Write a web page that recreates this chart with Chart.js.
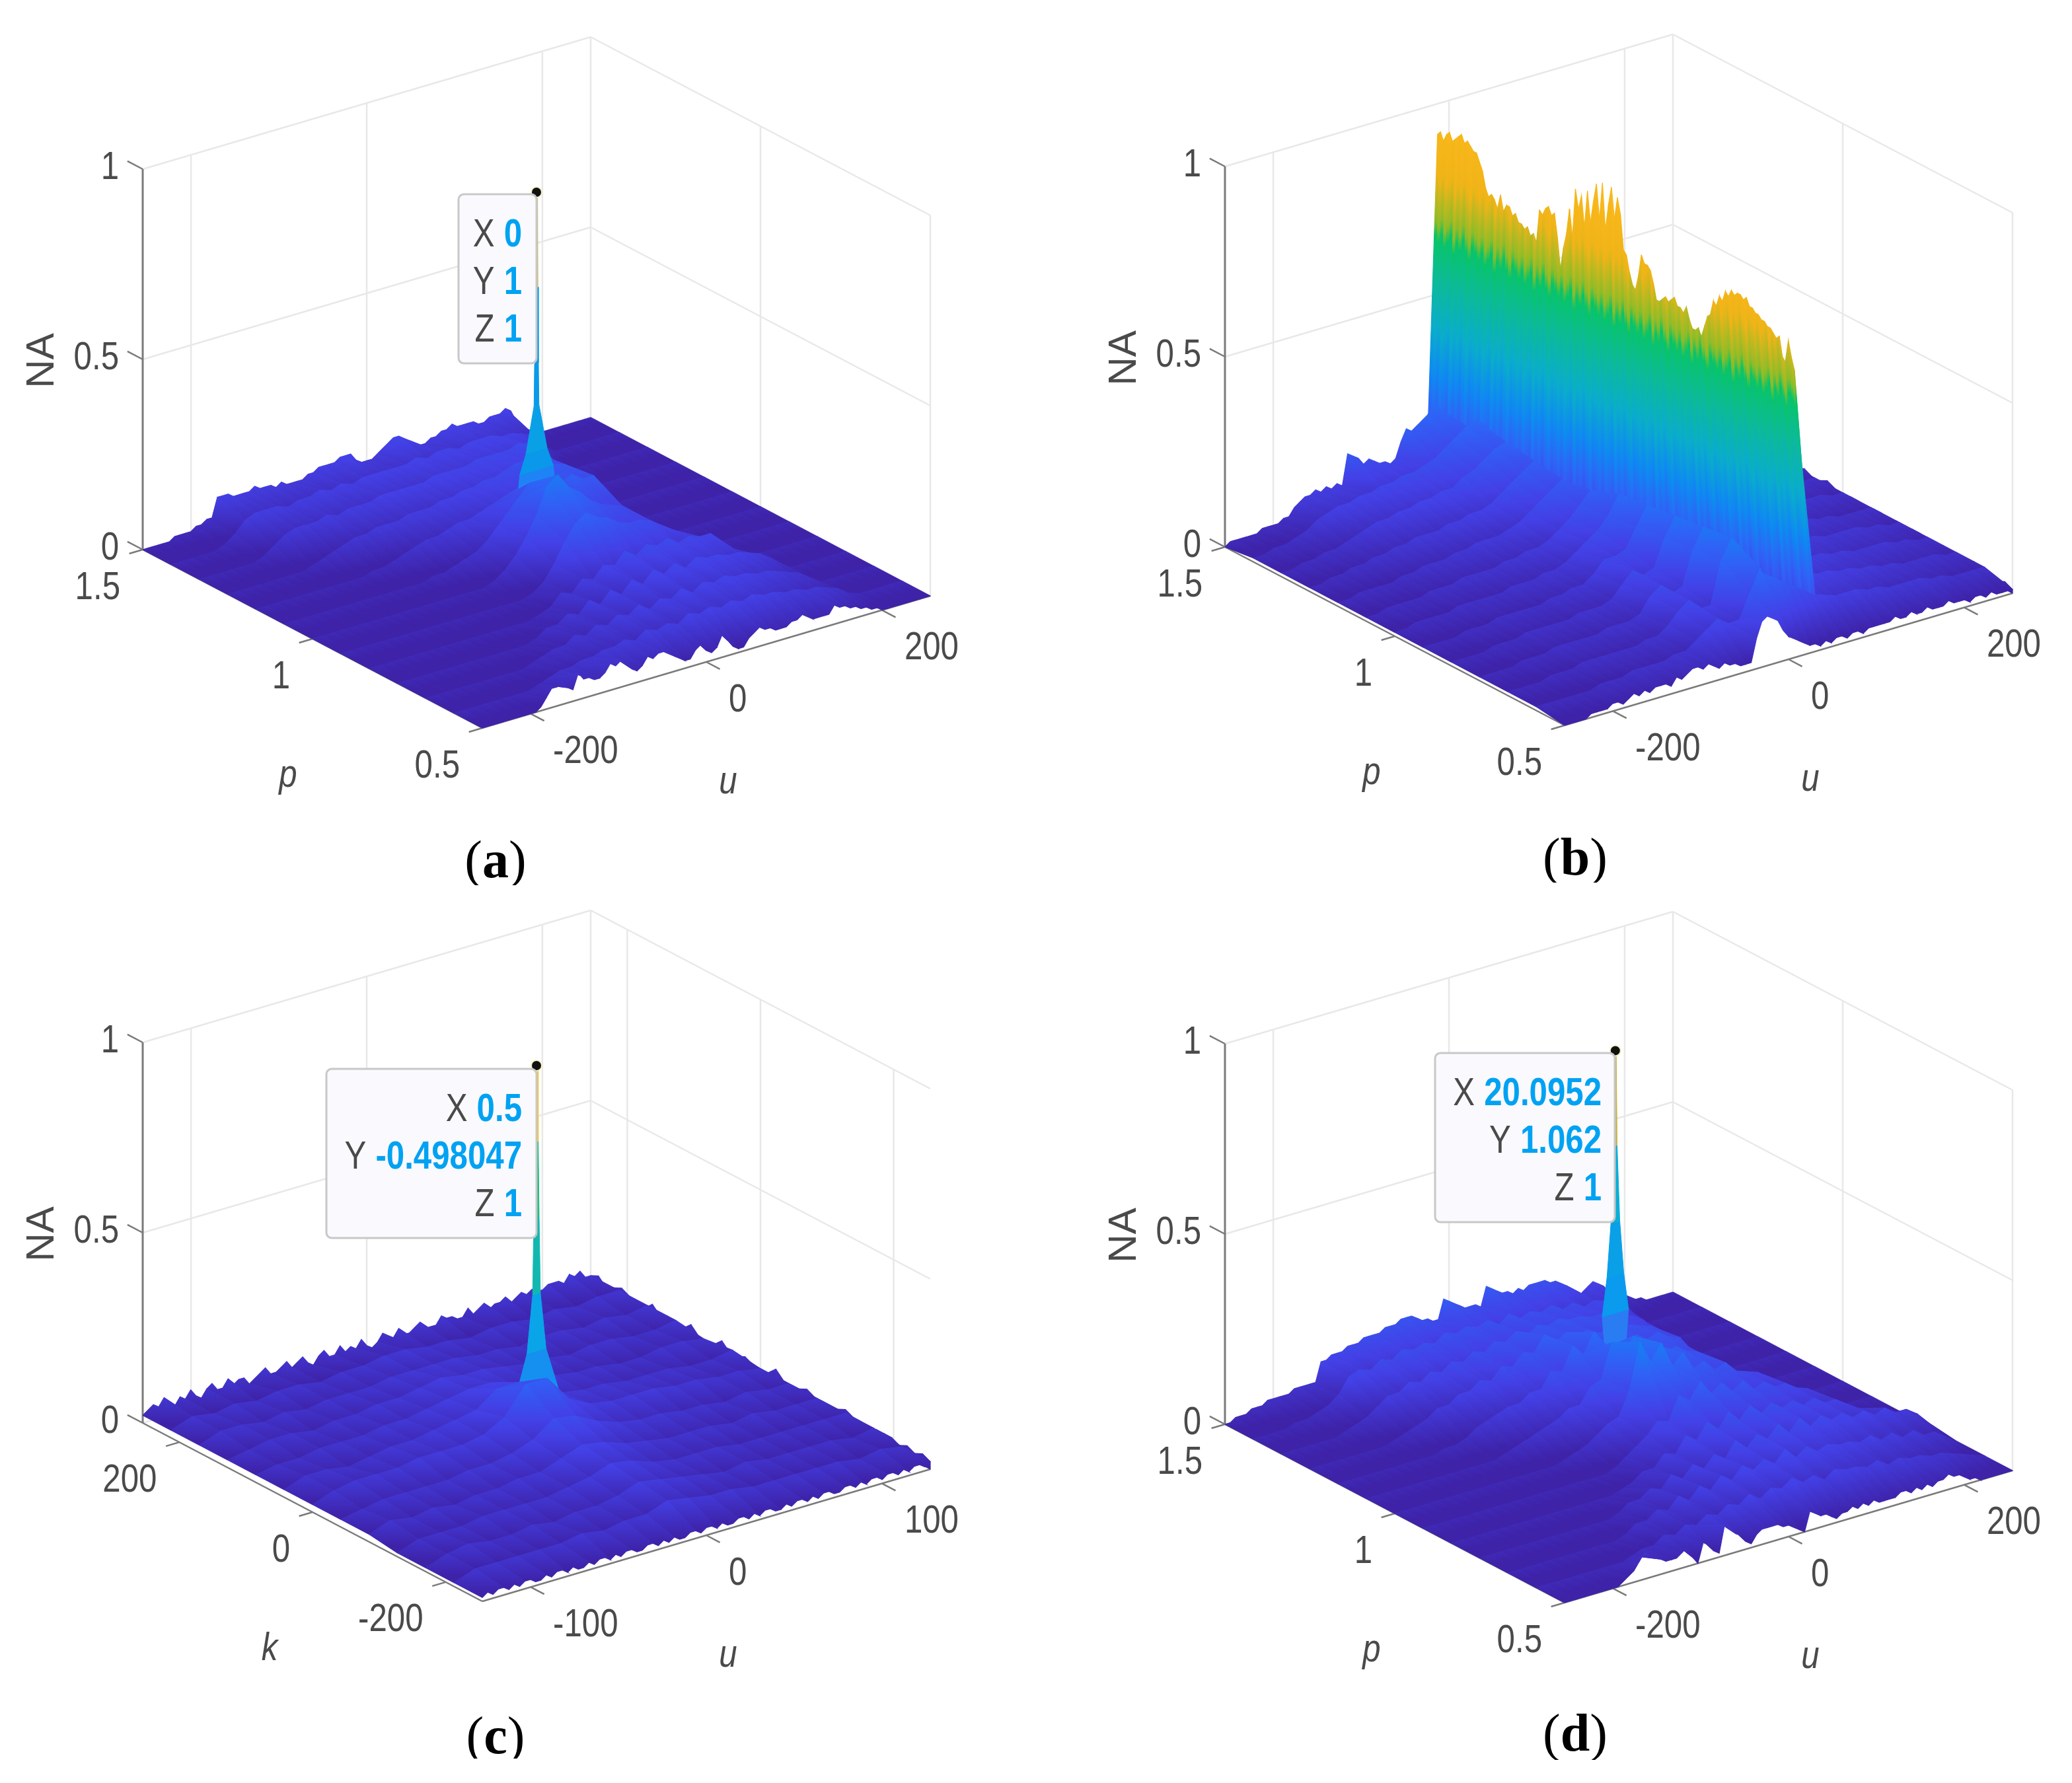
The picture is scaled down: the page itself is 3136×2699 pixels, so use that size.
<!DOCTYPE html>
<html>
<head>
<meta charset="utf-8">
<title>NA surfaces</title>
<script src="https://cdn.jsdelivr.net/npm/chart.js@4/dist/chart.umd.js"></script>
<style>
html,body{margin:0;background:#fff;width:3136px;height:2699px;overflow:hidden}
canvas{position:absolute}
</style>
</head>
<body>
<canvas id="chartA" width="1500" height="1340" style="left:0;top:0"></canvas>
<canvas id="chartB" width="1498" height="1340" style="left:1638px;top:-4px"></canvas>
<canvas id="chartC" width="1500" height="1340" style="left:0;top:1322px"></canvas>
<canvas id="chartD" width="1498" height="1340" style="left:1638px;top:1324px"></canvas>
<script>
// tick labels
const naTicks = [0, 0.5, 1];
const uTicksWide = [-200, 0, 200];
const uTicksNarrow = [-100, 0, 100];
const pTicks = [1.5, 1, 0.5];
const kTicks = [200, 0, -200];

// heights are in percent of NA. back row = p 1.5 (k 255), front row = p 0.5 (k -255), read left to right along u
// inner rows stop early where the rest of the row is flat at 0
const backA = [0,0,0,0,0,0,1,1,1,1,2,2,3,3,8,8,8,7,7,7,7,8,7,7,7,6,7,6,6,6,6,7,7,8,8,8,8,9,9,9,7,6,6,6,7,8,9,10,10,9,8,7,6,6,7,7,8,8,9,8,8,8,8,7,7,8,8,8,9,8,5,3,2,1,0,0,0,0,0,0,0,0,0,0,0];
const innerA = [
  [0,0,0,0,0,1,3,6,7,7,7,6,7,7,8,7,8,7,8,8,8,8,8,9,8,9,9,8,9,9,9,8,8,7,6,2],
  [0,0,0,0,0,0,1,3,5,6,6,6,7,6,7,7,7,8,8,8,8,8,9,9,9,9,10,10,10,10,11,10,9,4,1],
  [0,0,0,0,0,0,0,0,1,2,3,4,5,5,6,6,6,7,7,7,8,8,9,9,10,10,11,12,12,13,12,6,1],
  [0,0,0,0,0,0,0,0,0,0,0,1,1,2,3,4,5,5,6,7,7,8,9,10,11,12,13,14,15,14,8,1],
  [0,0,0,0,0,0,0,0,0,0,0,0,0,0,1,1,2,3,4,6,9,12,15,18,18,17,16,17,15,15,9,2],
  [0,0,0,0,0,0,0,0,0,0,0,0,0,0,0,0,0,1,3,6,10,15,22,24,20,18,15,13,12,11,7,3,1],
  [0,0,0,0,0,0,0,0,0,0,0,0,0,0,0,0,0,0,1,3,7,12,16,18,16,15,13,12,12,11,9,7,3,1],
  [0,0,0,0,0,0,0,0,0,0,0,0,0,0,0,0,1,2,5,4,7,6,9,8,11,9,11,10,11,9,10,9,9,5,2],
  [0,0,0,0,0,0,0,0,0,0,0,0,0,1,3,3,5,4,7,5,8,6,9,7,10,8,10,8,10,9,9,8,8,7,6,4,1],
  [0,0,0,0,0,0,0,0,0,0,1,2,3,3,5,4,6,5,7,6,8,6,8,7,9,7,9,8,9,8,8,7,7,6,5,4,2],
  [0,0,0,0,0,0,0,0,1,2,3,3,4,4,5,5,6,5,7,6,7,6,8,7,8,7,8,7,8,7,7,6,6,5,5,4,3,1]
];
const frontA = [0,0,0,0,0,0,0,0,0,0,0,1,3,5,5,6,4,3,7,5,5,4,4,5,7,6,7,6,4,3,4,6,5,6,6,5,4,3,2,2,4,5,3,2,3,6,4,2,1,1,3,4,5,4,4,3,3,3,4,4,5,4,3,3,3,3,5,4,4,3,3,2,2,1,1,0,0,0,0,0,0,0,0,0,0];

const backB = [0,1,1,1,1,1,1,2,2,2,2,3,3,5,6,7,7,8,7,8,7,8,7,15,14,13,11,12,11,10,10,9,10,14,17,16,17,18,19,21,20,10,8,7,6,6,6,5,6,5,6,5,5,6,5,5,6,5,5,5,6,5,5,5,6,5,5,5,5,6,5,5,5,5,5,5,5,5,5,5,5,5,5,5,5];
const innerB = [
  [1,1,2,2,3,4,6,7,8,8,9,9,10,10,11,11,12,13,15,17,19,20,14,10,9,8,8,7,7,6,6,6,6,5,5,5,5,4,4,4,4,4,4],
  [1,1,2,2,3,3,4,5,6,7,7,8,8,9,9,10,10,12,13,15,17,18,13,10,9,8,8,7,7,6,6,6,6,5,5,5,5,5,4,4,4,4,4],
  [1,1,2,2,3,3,4,4,5,5,6,6,6,7,7,8,8,9,11,13,15,17,13,10,9,8,8,7,7,6,6,5,5,5,5,5,4,4,4,4,4,4,4],
  [1,1,2,2,2,2,3,3,4,4,4,5,5,6,6,6,7,8,10,12,14,16,12,10,9,8,8,7,7,6,6,5,5,5,5,4,4,4,4,4,4,3,3],
  [1,1,2,2,2,2,3,3,3,4,4,4,4,5,5,6,6,7,9,11,14,17,12,10,9,8,8,7,7,6,6,6,6,5,5,4,4,4,4,4,4,3,3],
  [1,1,2,2,2,2,3,3,3,3,3,4,4,4,5,5,6,8,10,12,15,20,15,12,10,9,9,8,8,7,7,6,6,5,5,5,5,4,4,4,4,3,3],
  [1,1,1,1,2,2,2,3,3,3,3,3,4,4,5,5,7,10,10,11,16,21,16,13,11,10,10,9,9,8,8,7,7,6,6,5,5,4,4,3,3,3,3],
  [1,1,1,1,2,2,2,3,3,3,3,3,4,4,4,5,8,11,9,10,17,22,17,14,12,10,10,9,9,8,8,7,7,6,6,5,5,5,5,4,4,3,3],
  [1,1,1,1,2,2,2,3,3,3,3,3,4,4,4,5,9,11,8,9,18,23,18,15,13,11,10,9,9,8,8,7,7,6,6,5,5,5,5,4,4,3,3],
  [1,1,1,1,2,2,2,3,3,3,3,3,3,4,4,6,9,11,8,8,19,24,20,16,14,11,10,9,9,8,8,7,7,6,6,5,5,4,4,4,4,3,3],
  [1,1,1,1,1,1,2,2,2,3,3,3,3,4,4,6,8,10,8,8,14,20,22,18,15,12,9,8,7,7,7,6,6,5,5,5,5,4,4,3,3,3,3]
];
const frontB = [0,0,0,0,0,1,1,1,1,2,2,1,2,3,2,3,2,3,3,3,2,4,3,4,5,5,4,5,4,3,4,3,3,2,2,2,8,12,13,12,11,8,6,5,4,3,2,2,1,2,1,2,2,1,2,2,1,2,2,2,2,2,3,2,2,3,2,2,3,2,2,2,3,2,2,2,1,2,2,1,2,1,1,1,1];
const edgeRightB = [5,5,4,5,4,4,5,4,3,4,4,3,4,3,4,3,3,4,3,3,4,3,2,3,3,2,3,3,2,3,2,3,3,2,2,3,2,2,2,3,2,2,1,2,1];
// wall of panel b, one value per step along p from 1.5 to 0.5
const ridgeB = [92,93,91,93,94,92,93,94,95,93,94,93,92,92,90,88,84,82,83,82,80,84,80,82,82,80,81,79,79,78,79,77,78,76,85,84,86,87,85,86,80,72,78,82,89,82,95,90,94,86,96,88,94,99,90,100,88,95,100,92,98,94,85,84,80,77,76,80,86,84,84,83,80,76,76,77,78,77,78,79,77,77,76,78,75,73,73,74,72,75,78,79,83,82,85,84,87,86,88,87,88,88,87,88,86,86,85,85,84,84,83,83,82,81,82,77,76,82,78,75,62];
const ridgeTopU = [-13, 10];
const ridgeBaseU = [-24, 30];
const ridgeBaseZ = 0.15;
const wallStreak = [0,8,-5,12,2,-9,16,-3,6,-11,4,14,-7];

const backC = [2,3,4,3,5,3,2,4,3,5,3,2,4,5,3,3,5,3,4,4,2,3,4,5,3,3,4,5,3,4,5,3,2,4,5,3,3,5,3,4,3,5,3,2,3,5,4,3,5,3,3,4,5,3,3,3,5,4,4,3,3,5,3,4,5,3,4,4,5,3,4,5,4,5,4,4,5,5,5,4,6,5,6,4,4];
const innerC = [
  [2,4,3,4,3,4,4,3,4,4,5,5,4,4,3,4,4,3,4,3,4,4],
  [2,4,4,3,4,3,4,4,4,5,5,5,5,4,4,3,4,4,3,4,3,4],
  [2,3,4,4,3,4,4,5,5,6,7,6,6,5,4,4,3,4,4,3,3,4],
  [2,3,3,4,4,4,5,5,6,7,8,8,6,5,5,4,4,3,3,4,4,3],
  [2,4,4,3,4,5,5,6,7,8,12,12,8,6,5,5,4,4,4,3,3,4],
  [2,4,5,5,5,6,6,6,7,10,17,17,10,7,6,6,6,5,5,4,4,3],
  [2,3,4,4,4,4,5,5,6,8,12,11,8,6,5,5,4,4,3,4,3,3],
  [2,4,3,4,3,4,4,5,5,7,9,8,6,5,4,4,4,3,4,3,3,3],
  [1,3,3,3,4,4,4,4,5,6,8,7,5,4,4,4,3,3,3,3,3,3],
  [1,3,4,3,3,4,3,4,4,5,7,6,5,4,3,4,3,3,3,3,2,3],
  [1,3,3,3,3,3,4,3,4,4,6,5,4,4,3,3,3,3,3,2,3,2]
];
const frontC = [1,2,1,2,2,1,2,1,2,2,1,1,2,1,2,2,1,2,1,1,2,1,2,2,1,2,1,2,2,1,1,2,2,1,2,1,2,1,1,2,2,1,2,2,1,2,1,1,2,2,1,2,1,2,2,1,1,2,1,2,2,1,2,1,2,2,1,1,2,2,1,2,1,2,2,1,2,2,1,2,1,2,2,1,2];
const edgeRightC = [4,5,3,4,5,4,3,3,5,3,4,3,3,5,3,3,3,5,3,3,4,3,3,3,5,3,3,3,4,3,3,3,3,4,3,3,2,3,3,3,2,3,2,3,2];

const backD = [0,0,1,1,1,2,2,2,3,3,3,3,3,4,4,4,4,4,9,9,10,10,10,11,11,11,12,12,12,12,13,13,13,14,14,14,13,12,12,11,11,16,15,14,13,12,12,12,11,16,15,14,13,13,12,13,12,13,13,13,13,12,12,11,10,8,5,7,8,9,8,7,5,4,3,3,2,1,1,0,0,0,0,0,0];
const innerD = [
  [0,0,0,0,1,1,2,3,5,9,10,9,11,10,12,11,12,11,13,12,13,12,13,11,13,11,12,11,12,10,11,9,10,9,8,6,2],
  [0,0,0,0,0,0,1,2,3,5,7,7,9,8,10,9,11,10,12,11,13,12,14,12,14,13,14,13,13,12,12,11,10,9,7,2],
  [0,0,0,0,0,0,0,0,1,2,3,4,6,6,8,8,10,9,12,11,14,13,17,14,16,14,15,13,14,13,13,12,11,9,2],
  [0,0,0,0,0,0,0,0,0,0,1,1,2,4,5,6,7,7,9,9,13,12,18,15,20,15,17,15,16,14,15,13,12,6,1],
  [0,0,0,0,0,0,0,0,0,0,0,0,0,1,2,3,4,5,6,8,8,12,13,22,16,22,16,18,15,16,14,13,8,2],
  [0,0,0,0,0,0,0,0,0,0,0,0,0,0,0,0,1,2,3,5,7,8,14,26,20,24,17,20,15,16,13,14,11,10,9,5,1],
  [0,0,0,0,0,0,0,0,0,0,0,0,0,0,0,0,0,0,1,3,5,7,10,9,15,13,17,13,15,12,14,11,12,10,10,8,7,3,1],
  [0,0,0,0,0,0,0,0,0,0,0,0,0,0,0,0,1,2,4,4,7,6,10,8,12,9,13,10,13,10,12,10,11,9,10,8,8,6,4,1],
  [0,0,0,0,0,0,0,0,0,0,0,0,0,1,3,3,5,4,7,5,8,6,9,7,11,8,11,9,12,9,12,9,11,9,10,8,9,7,8,6,6,4,1],
  [0,0,0,0,0,0,0,0,0,0,0,1,3,3,5,4,7,5,8,6,9,7,10,8,10,8,11,8,10,8,9,8,8,7,8,6,7,5,6,4,4,2],
  [0,0,0,0,0,0,0,0,0,1,2,2,4,3,5,4,6,5,7,6,8,6,8,7,9,7,8,6,8,7,7,6,7,5,6,5,5,4,4,3,2,1]
];
const frontD = [0,0,0,0,0,0,0,0,0,0,0,1,2,3,5,7,6,5,4,3,3,3,4,5,2,0,5,4,2,1,8,7,5,4,2,1,3,4,4,4,4,3,3,2,1,0,5,4,3,3,2,1,2,2,3,2,3,2,3,2,2,2,2,3,3,2,3,2,3,2,3,3,4,3,3,2,1,1,0,0,0,0,0,0,0];

// central peak, height against half width (u units)
const peakZA = [0.12,0.2,0.27,0.32,0.44,0.55,0.75,1];
const peakWA = [8,22,19,12,2.8,2.2,1.6,1.2];
const peakColorsA = ['#2F6CF6','#1E84F5','#0A98EA','#0AA0E6','#0A9AE8','#0A9AE8','#C9B95A'];
const peakZC = [0.08,0.13,0.25,0.4,0.6,0.8,1];
const peakWC = [5,12.7,5.4,2.2,1.5,1,0.8];
const peakColorsC = ['#2F7AF0','#1590F0','#0AA5E8','#12B8B0','#1CC080','#EEC830'];
const peakZD = [0.16,0.31,0.41,0.55,0.75,1];
const peakWD = [10,15,9.5,5,2,1];
const peakColorsD = ['#2A7CF2','#0A9AEE','#0AA0E8','#0AAED8','#C9B34C'];

// data tips
const tipRowsA = [['X','0'],['Y','1'],['Z','1']];
const tipRowsC = [['X','0.5'],['Y','-0.498047'],['Z','1']];
const tipRowsD = [['X','20.0952'],['Y','1.062'],['Z','1']];

const parulaStops = [[0,'#3E22A8'],[0.1,'#4340E6'],[0.2,'#2F62F6'],[0.3,'#0F88F2'],[0.42,'#0AACCC'],[0.55,'#0CBA98'],[0.66,'#08C468'],[0.7,'#8CBC28'],[0.82,'#F0B418'],[1,'#FBB81A']];

let g2d = null; // context of the canvas being filled, the chart scales map 1:1 on it

function project(s, t, z) {
  return {x: 216 + 678 * s + 514 * t, y: 832 - 200 * s + 270 * t - 576 * z};
}

function heightGradient(floorY) {
  const g = g2d.createLinearGradient(0, floorY, 0, floorY - 576);
  parulaStops.forEach(st => g.addColorStop(st[0], st[1]));
  return g;
}

// a closed polygon on the surface, coloured by height
function facet(pts, shift) {
  let ms = 0, mt = 0;
  pts.forEach(p => { ms += p.s; mt += p.t; });
  const paint = heightGradient(project(ms / pts.length, mt / pts.length, 0).y + (shift || 0));
  const data = pts.concat([pts[0]]).map(p => project(p.s, p.t, p.z));
  return {data: data, fill: 'shape', backgroundColor: paint, borderColor: paint, borderWidth: 1.2, pointRadius: 0, tension: 0};
}

function solid(pts, color) {
  const data = pts.concat([pts[0]]).map(p => project(p.s, p.t, p.z));
  return {data: data, fill: 'shape', backgroundColor: color, borderColor: color, borderWidth: 1, pointRadius: 0, tension: 0};
}

function stroke(a, b, color, w) {
  return {data: [project(a[0], a[1], a[2]), project(b[0], b[1], b[2])], fill: false, borderColor: color, borderWidth: w, pointRadius: 0, tension: 0};
}

function rowPart(row, t, k, K) {
  // fine rows are longer than the column count, short rows are padded with the flat 0
  const n = row.length > K + 1 ? row.length - 1 : K, out = [];
  const from = Math.round(k * n / K), to = Math.round((k + 1) * n / K);
  for (let i = from; i <= to; i++) out.push({s: i / n, t: t, z: (row[i] || 0) / 100});
  return out;
}

function buildPanel(cfg) {
  const ds = [];
  const uToS = u => (u - cfg.uRange[0]) / (cfg.uRange[1] - cfg.uRange[0]);
  const pToT = p => (cfg.pRange[0] - p) / (cfg.pRange[0] - cfg.pRange[1]);
  const wall = '#E8E8E8';
  // walls
  ds.push(stroke([0,0,1],[1,0,1],wall,2.5), stroke([1,0,0],[1,0,1],wall,2.5), stroke([1,0,1],[1,1,1],wall,2.5));
  ds.push(stroke([0,0,0.5],[1,0,0.5],wall,2.5), stroke([1,0,0.5],[1,1,0.5],wall,2.5));
  ds.push(stroke([0,0,0],[1,0,0],wall,2.5), stroke([1,0,0],[1,1,0],wall,2.5));
  if (cfg.rightPost) ds.push(stroke([1,1,0],[1,1,1],wall,2.5));
  cfg.uTicks.forEach(u => ds.push(stroke([uToS(u),0,0],[uToS(u),0,1],wall,2.5)));
  cfg.pTicks.forEach(p => { const t = pToT(p); if (t > 0.01 && t < 0.99) ds.push(stroke([1,t,0],[1,t,1],wall,2.5)); });
  // axes and tick marks
  const ax = '#7A7A7A';
  ds.push(stroke([0,0,0],[0,0,1],ax,3), stroke([0,0,0],[0,1,0],ax,2.5), stroke([0,1,0],[1,1,0],ax,2.5));
  naTicks.forEach(z => ds.push(stroke([0,0,z],[0,-0.045,z],ax,2.5)));
  cfg.uTicks.forEach(u => ds.push(stroke([uToS(u),1,0],[uToS(u),1.04,0],ax,2.5)));
  cfg.pTicks.forEach(p => ds.push(stroke([0,pToT(p),0],[-0.03,pToT(p),0],ax,2.5)));

  // skirt along the far u edge
  if (cfg.edgeRight) {
    const n = cfg.edgeRight.length - 1;
    for (let j = 0; j < n; j++) {
      ds.push(facet([{s:1,t:j/n,z:cfg.edgeRight[j]/100},{s:1,t:(j+1)/n,z:cfg.edgeRight[j+1]/100},{s:1,t:(j+1)/n,z:0},{s:1,t:j/n,z:0}]));
    }
  }

  const rows = [cfg.back].concat(cfg.inner, [cfg.front]);
  const K = cfg.columns, R = rows.length - 1;
  for (let k = K - 1; k >= 0; k--) {
    for (let i = 0; i < R; i++) {
      const a = rowPart(rows[i], i / R, k, K);
      const b = rowPart(rows[i + 1], (i + 1) / R, k, K).reverse();
      ds.push(facet(a.concat(b)));
    }
    if (k === cfg.insertAt) {
      // tall wall (panel b)
      if (cfg.ridge) {
        const n = cfg.ridge.length - 1;
        const topS = j => uToS(cfg.ridgeTopU[0] + (cfg.ridgeTopU[1] - cfg.ridgeTopU[0]) * j / n);
        const baseS = j => uToS(cfg.ridgeBaseU[0] + (cfg.ridgeBaseU[1] - cfg.ridgeBaseU[0]) * j / n);
        for (let j = 0; j < n; j++) {
          ds.push(facet([
            {s:topS(j),t:j/n,z:cfg.ridge[j]/100},{s:topS(j+1),t:(j+1)/n,z:cfg.ridge[j+1]/100},
            {s:baseS(j+1),t:(j+1)/n,z:ridgeBaseZ},{s:baseS(j),t:j/n,z:ridgeBaseZ}
          ], wallStreak[j % wallStreak.length]));
        }
      }
      // peak, the cells drawn after it bury its foot
      if (cfg.peakZ) {
        const s0 = uToS(cfg.peak[0]), t0 = pToT(cfg.peak[1]), du = 1 / (cfg.uRange[1] - cfg.uRange[0]);
        for (let m = 0; m < cfg.peakZ.length - 1; m++) {
          ds.push(solid([
            {s:s0-cfg.peakW[m]*du,t:t0,z:cfg.peakZ[m]},{s:s0-cfg.peakW[m+1]*du,t:t0,z:cfg.peakZ[m+1]},
            {s:s0+cfg.peakW[m+1]*du,t:t0,z:cfg.peakZ[m+1]},{s:s0+cfg.peakW[m]*du,t:t0,z:cfg.peakZ[m]}
          ], cfg.peakColors[m]));
        }
        ds.push({data:[project(s0,t0,1)],showLine:false,pointRadius:8,pointBackgroundColor:'#111',pointBorderColor:'#F6F3C8',pointBorderWidth:2});
      }
    }
  }
  return ds.reverse();
}

// the reference text is taller than it is wide, so squeeze it a little
const squeeze = 0.82;
function tallText(c, txt, x, y, align) {
  c.save();
  c.translate(x, y);
  c.scale(squeeze, 1);
  c.textAlign = align;
  c.fillText(txt, 0, 4);
  c.restore();
}

// axis text, data tip and caption
const textPlugin = {
  id: 'panelText',
  afterDatasetsDraw(chart, args, opts) {
    const c = chart.ctx, cfg = opts.cfg;
    const uToS = u => (u - cfg.uRange[0]) / (cfg.uRange[1] - cfg.uRange[0]);
    const pToT = p => (cfg.pRange[0] - p) / (cfg.pRange[0] - cfg.pRange[1]);
    const px = v => chart.scales.x.getPixelForValue(v), py = v => chart.scales.y.getPixelForValue(v);
    const gray = '#4A4A4A';
    c.save();
    c.textBaseline = 'middle';
    c.fillStyle = gray;
    c.font = '60px "Liberation Sans"';
    naTicks.forEach(z => { const q = project(0,0,z); tallText(c, String(z), px(q.x - 36), py(q.y - 6), 'right'); });
    cfg.pTicks.forEach(p => { const q = project(0,pToT(p),0); tallText(c, String(p), px(q.x - 34), py(q.y + 54), 'right'); });
    cfg.uTicks.forEach(u => { const q = project(uToS(u),1,0); tallText(c, String(u), px(q.x + 34), py(q.y + 54), 'left'); });

    c.font = 'italic 60px "Liberation Sans"';
    tallText(c, cfg.sideLabel, px(cfg.sideX), py(1170), 'center');
    tallText(c, 'u', px(1102), py(1180), 'center');
    c.save();
    c.translate(px(64), py(546));
    c.rotate(-Math.PI / 2);
    c.textAlign = 'center';
    c.font = '60px "Liberation Sans"';
    c.fillText('NA', 0, 0);
    c.restore();

    if (cfg.tip) {
      const b = cfg.tip.box;
      c.beginPath();
      c.roundRect(px(b[0]), py(b[1]), b[2], b[3], 8);
      c.fillStyle = '#FAF9FD';
      c.fill();
      c.lineWidth = 3;
      c.strokeStyle = '#C8C8C8';
      c.stroke();
      cfg.tip.rows.forEach((r, i) => {
        const y = cfg.tip.y + i * 72;
        c.font = 'bold 60px "Liberation Sans"';
        c.fillStyle = '#00A2F2';
        tallText(c, r[1], px(cfg.tip.right), py(y), 'right');
        const w = c.measureText(r[1]).width * squeeze;
        c.font = '60px "Liberation Sans"';
        c.fillStyle = gray;
        tallText(c, r[0], px(cfg.tip.right - w - 14), py(y), 'right');
      });
    }

    // caption
    c.fillStyle = '#000';
    c.textAlign = 'left';
    c.font = '80px "Liberation Serif"';
    const pw = c.measureText('(').width;
    c.font = 'bold 80px "Liberation Serif"';
    const lw = c.measureText(cfg.letter).width;
    const x = cfg.capX - pw - lw / 2;
    c.font = '80px "Liberation Serif"';
    c.fillText('(', px(x), py(cfg.capY));
    c.font = 'bold 80px "Liberation Serif"';
    c.fillText(cfg.letter, px(x + pw), py(cfg.capY));
    c.font = '80px "Liberation Serif"';
    c.fillText(')', px(x + pw + lw), py(cfg.capY));
    c.restore();
  }
};

function drawPanel(id, cfg) {
  const cv = document.getElementById(id);
  g2d = cv.getContext('2d');
  new Chart(cv, {
    type: 'line',
    data: {datasets: buildPanel(cfg)},
    options: {
      responsive: false,
      animation: false,
      events: [],
      layout: {padding: 0, autoPadding: false},
      scales: {
        x: {type: 'linear', min: 0, max: cv.width, display: false},
        y: {type: 'linear', min: 0, max: cv.height, reverse: true, display: false}
      },
      plugins: {legend: {display: false}, tooltip: {enabled: false}, panelText: {cfg: cfg}}
    },
    plugins: [textPlugin]
  });
}

drawPanel('chartA', {letter:'a', capX:750, capY:1307, back:backA, inner:innerA, front:frontA, columns:42,
  uRange:[-255,255], pRange:[1.5,0.5], uTicks:uTicksWide, pTicks:pTicks, sideLabel:'p', sideX:436, rightPost:true,
  insertAt:23, peak:[0,1], peakZ:peakZA, peakW:peakWA, peakColors:peakColorsA,
  tip:{box:[694,294,118,256], rows:tipRowsA, right:790, y:352}});
drawPanel('chartB', {letter:'b', capX:746, capY:1307, back:backB, inner:innerB, front:frontB, edgeRight:edgeRightB, columns:42,
  uRange:[-255,255], pRange:[1.5,0.5], uTicks:uTicksWide, pTicks:pTicks, sideLabel:'p', sideX:438, rightPost:true,
  insertAt:21, ridge:ridgeB, ridgeTopU:ridgeTopU, ridgeBaseU:ridgeBaseU});
drawPanel('chartC', {letter:'c', capX:750, capY:1311, back:backC, inner:innerC, front:frontC, edgeRight:edgeRightC, columns:21,
  uRange:[-127.5,127.5], pRange:[255,-255], uTicks:uTicksNarrow, pTicks:kTicks, sideLabel:'k', sideX:408, rightPost:false,
  insertAt:12, peak:[0,0], peakZ:peakZC, peakW:peakWC, peakColors:peakColorsC,
  tip:{box:[494,296,318,256], rows:tipRowsC, right:790, y:354}});
drawPanel('chartD', {letter:'d', capX:746, capY:1305, back:backD, inner:innerD, front:frontD, columns:42,
  uRange:[-255,255], pRange:[1.5,0.5], uTicks:uTicksWide, pTicks:pTicks, sideLabel:'p', sideX:438, rightPost:true,
  insertAt:25, peak:[20.1,1.062], peakZ:peakZD, peakW:peakWD, peakColors:peakColorsD,
  tip:{box:[534,270,272,256], rows:tipRowsD, right:786, y:328}});
</script>
</body>
</html>
